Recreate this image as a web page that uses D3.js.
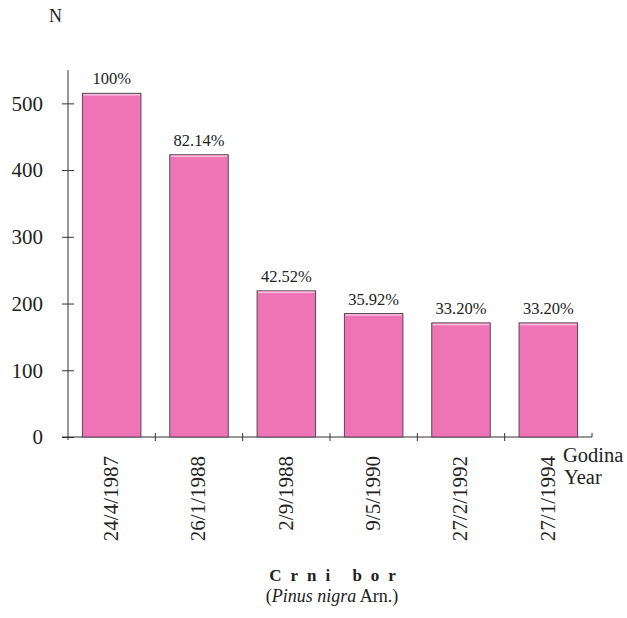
<!DOCTYPE html>
<html>
<head>
<meta charset="utf-8">
<script src="https://cdn.jsdelivr.net/npm/d3@7"></script>
<style>
  body { margin: 0; background: #fff; }
  svg text { font-family: 'Liberation Serif', 'Times New Roman', serif; fill: #222; }
</style>
</head>
<body>
<div id="chart"></div>
<script>
    'use strict';

    // data
    const dates = ['24/4/1987', '26/1/1988', '2/9/1988', '9/5/1990', '27/2/1992', '27/1/1994'];
    const counts = [515, 423, 219, 185, 171, 171];
    const percents = ['100%', '82.14%', '42.52%', '35.92%', '33.20%', '33.20%'];
    const yTicks = [0, 100, 200, 300, 400, 500];

    const W = 627, H = 618;
    const x0 = 68, x1 = 592, yBase = 437, yTop = 70;

    const svg = d3.select('#chart').append('svg')
        .attr('width', W).attr('height', H);

    const xScale = d3.scaleBand().domain(dates).range([x0, x1])
        .paddingInner(0.33).paddingOuter(0.165);
    const yScale = d3.scaleLinear().domain([0, 550]).range([yBase, yTop]);

    // y axis
    const yAxis = d3.axisLeft(yScale).tickValues(yTicks).tickSize(6).tickSizeOuter(0).tickPadding(19);
    const gy = svg.append('g').attr('transform', 'translate(' + x0 + ',0)').call(yAxis);
    gy.select('.domain').remove();
    gy.selectAll('.tick line').attr('x2', -6).attr('x1', 6).attr('stroke', '#333');
    gy.selectAll('.tick text').style('font-size', '21px')
        .style('font-family', "'Liberation Serif', serif").attr('fill', '#222');
    svg.append('line').attr('x1', x0).attr('x2', x0).attr('y1', yTop).attr('y2', yBase + 3)
        .attr('stroke', '#333');

    // x axis line and ticks at band borders
    svg.append('line').attr('x1', x0 - 6).attr('x2', x1).attr('y1', yBase).attr('y2', yBase)
        .attr('stroke', '#333');
    const step = xScale.step();
    svg.selectAll('.xtick').data(dates).enter().append('line').attr('class', 'xtick')
        .attr('x1', (d, i) => x0 + step * (i + 1)).attr('x2', (d, i) => x0 + step * (i + 1))
        .attr('y1', yBase - 4).attr('y2', (d, i) => i === dates.length - 1 ? yBase : yBase + 4)
        .attr('stroke', '#333');

    // bars
    svg.selectAll('.bar').data(counts).enter().append('rect').attr('class', 'bar')
        .attr('x', (d, i) => xScale(dates[i]))
        .attr('y', d => yScale(d))
        .attr('width', xScale.bandwidth())
        .attr('height', d => yBase - yScale(d))
        .attr('fill', '#ef74b6')
        .attr('stroke', '#5a4650').attr('stroke-width', 1);
    svg.selectAll('.barhl').data(counts).enter().append('line').attr('class', 'barhl')
        .attr('x1', (d, i) => xScale(dates[i]) + 1)
        .attr('x2', (d, i) => xScale(dates[i]) + xScale.bandwidth() - 1)
        .attr('y1', d => yScale(d) + 1.5).attr('y2', d => yScale(d) + 1.5)
        .attr('stroke', '#f7c3df').attr('stroke-width', 1.5);

    // percent labels
    svg.selectAll('.pct').data(counts).enter().append('text').attr('class', 'pct')
        .attr('x', (d, i) => xScale(dates[i]) + xScale.bandwidth() / 2)
        .attr('y', d => yScale(d) - 9)
        .attr('text-anchor', 'middle')
        .style('font-size', '16.5px')
        .text((d, i) => percents[i]);

    // rotated date labels
    svg.selectAll('.date').data(dates).enter().append('text').attr('class', 'date')
        .attr('transform', d => 'translate(' + (xScale(d) + xScale.bandwidth() / 2) + ',456) rotate(-90)')
        .attr('text-anchor', 'end').attr('dy', '0.3em')
        .style('font-size', '21px')
        .text(d => d);

    // axis captions
    svg.append('text').attr('x', 49).attr('y', 22).style('font-size', '18px').text('N');
    svg.append('text').attr('x', 563).attr('y', 462).style('font-size', '20.5px').text('Godina');
    svg.append('text').attr('x', 564).attr('y', 484).style('font-size', '20.5px').text('Year');

    // title
    svg.append('text').attr('x', 337).attr('y', 581).attr('text-anchor', 'middle')
        .style('font-size', '17px').style('font-weight', 'bold').style('letter-spacing', '9px')
        .text('Crni bor');
    const sub = svg.append('text').attr('x', 332).attr('y', 602).attr('text-anchor', 'middle')
        .style('font-size', '18px');
    sub.append('tspan').text('(');
    sub.append('tspan').style('font-style', 'italic').text('Pinus nigra');
    sub.append('tspan').text(' Arn.)');
</script>
</body>
</html>
